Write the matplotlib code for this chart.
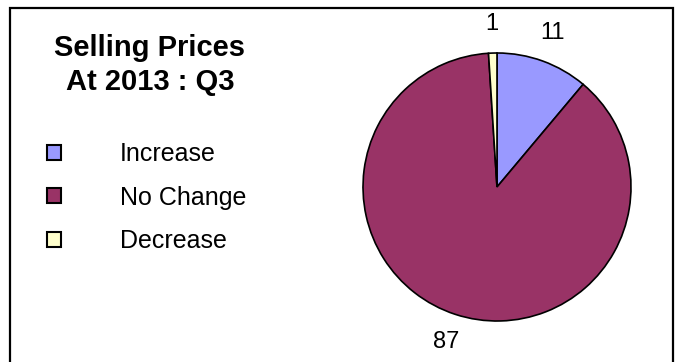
import matplotlib.pyplot as plt
from matplotlib.patches import Rectangle

# Data
categories = ["Increase", "No Change", "Decrease"]
values = [11, 87, 1]
colours = ["#9999FF", "#993366", "#FFFFCC"]
title = "Selling Prices\nAt 2013 : Q3"

plt.rcParams["font.family"] = ["Liberation Sans", "DejaVu Sans"]

W, H = 678, 362
fig = plt.figure(figsize=(W / 100, H / 100), dpi=100)

# outer frame (bottom edge falls outside the picture)
fig.add_artist(Rectangle((10 / W, -0.05), 663 / W, 1.05 - 8 / H,
                         transform=fig.transFigure, fill=False,
                         edgecolor="black", lw=1.6))

# pie: centre (497, 187) px, radius 134 px
cx, cy, r = 497, 187, 134
ax = fig.add_axes([(cx - r) / W, (H - cy - r) / H, 2 * r / W, 2 * r / H])
wedges, texts = ax.pie(
    values, colors=colours, labels=[str(v) for v in values],
    startangle=90, counterclock=False, radius=1, labeldistance=1.22,
    wedgeprops={"edgecolor": "black", "linewidth": 1.2},
    textprops={"fontsize": 17},
)
for t in texts:
    t.set_ha("center")
    t.set_va("center")
ax.set_xlim(-1, 1)
ax.set_ylim(-1, 1)

# title
fig.text(150 / W, 1 - 65 / H, title, ha="center", va="center",
         fontsize=21, fontweight="bold", linespacing=1.3)

# legend
fig.legend(
    wedges, categories, loc="upper left",
    bbox_to_anchor=(47 / W, 1 - 142 / H), frameon=False,
    fontsize=18, handlelength=0.55, handleheight=0.55,
    handletextpad=2.35, labelspacing=0.78, borderpad=0, borderaxespad=0,
)
for h in fig.legends[0].legend_handles:
    h.set_linewidth(1.5)

fig.savefig("out.png", dpi=100)
